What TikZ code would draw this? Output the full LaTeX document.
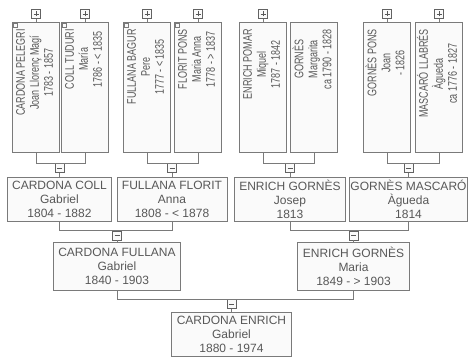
\documentclass[tikz,border=0pt]{standalone}
\usepackage{fontspec}
\setmainfont{Liberation Sans}
\usepackage{graphicx}
\usetikzlibrary{positioning}

\definecolor{frame}{HTML}{7A7A7A}
\definecolor{ink}{HTML}{585858}
\definecolor{paper}{HTML}{FAFAFA}

\newcommand{\upname}[3]{\rotatebox{90}{\makebox[116pt][r]{\scalebox{0.72}[1]{\fontsize{12.5}{14}\selectfont\begin{tabular}{@{}c@{}}#1\\#2\\#3\end{tabular}}}}}

\begin{document}
\begin{tikzpicture}[
  x=1pt, y=-1pt,
  person/.style={draw=frame, fill=paper, text=ink, line width=0.9pt, font=\fontsize{12}{14}\selectfont},
  upbox/.style={person, minimum width=47pt, minimum height=130pt, inner sep=0pt, anchor=north},
  rowbox/.style={person, align=center, inner xsep=5pt, inner ysep=1pt, minimum height=44pt},
  btn/.style={draw=frame!80!black, fill=paper, minimum size=9pt, inner sep=0pt, line width=0.8pt},
  minusbtn/.style={btn, path picture={\draw[ink] ([xshift=-2.5pt]path picture bounding box.center) -- ([xshift=2.5pt]path picture bounding box.center);}},
  plusbtn/.style={btn, path picture={\draw[ink] ([xshift=-2.5pt]path picture bounding box.center) -- ([xshift=2.5pt]path picture bounding box.center) ([yshift=-2.5pt]path picture bounding box.center) -- ([yshift=2.5pt]path picture bounding box.center);}},
  link/.style={draw=frame, line width=0.8pt}
]
\useasboundingbox (0,0) rectangle (471,358);

% great-grandparents
\node[upbox] (p1) at (36,22) {\upname{CARDONA PELEGRI}{Joan Llorenç Magí}{1783 - 1857}};
\node[upbox] (p2) at (85,22) {\upname{COLL TUDURI}{María}{1786 - < 1835}};
\node[upbox] (p3) at (147,22) {\upname{FULLANA BAGUR}{Pere}{1777 - < 1835}};
\node[upbox] (p4) at (198,22) {\upname{FLORIT PONS}{Maria Anna}{1778 - > 1837}};
\node[upbox] (p5) at (263,22) {\upname{ENRICH POMAR}{Miquel}{1787 - 1842}};
\node[upbox] (p6) at (314,22) {\upname{GORNÈS}{Margarita}{ca 1790 - 1828}};
\node[upbox] (p7) at (387,22) {\upname{GORNÈS PONS}{Joan}{- 1826}};
\node[upbox] (p8) at (439,22) {\upname{MASCARÓ LLABRÉS}{Àgueda}{ca 1776 - 1827}};
\foreach \p in {p1,p2,p3,p4}
  \draw[frame, line width=0.5pt] ([shift={(1.5,1.5)}]\p.north west) rectangle ++(4,4);

% expand buttons
\node[plusbtn] (a1) at (36,14) {};
\node[plusbtn] (a2) at (85,14) {};
\node[plusbtn] (a3) at (147,14) {};
\node[plusbtn] (a4) at (198,14) {};
\node[plusbtn] (a5) at (263,14) {};
\node[plusbtn] (a7) at (387,14) {};
\node[plusbtn] (a8) at (439,14) {};
\foreach \n in {1,2,3,4,5,7,8}
  \draw[link] (a\n) -- (p\n);

% grandparents
\node[rowbox] (c1) at (59.5,199) {CARDONA COLL\\Gabriel\\1804 - 1882};
\node[rowbox] (c2) at (172,199) {FULLANA FLORIT\\Anna\\1808 - < 1878};
\node[rowbox] (c3) at (290,199) {ENRICH GORNÈS\\Josep\\1813};
\node[rowbox, inner xsep=1pt] (c4) at (408.5,199) {GORNÈS MASCARÓ\\Àgueda\\1814};

% parents
\node[rowbox, minimum height=48pt] (g1) at (117,266) {CARDONA FULLANA\\Gabriel\\1840 - 1903};
\node[rowbox, minimum height=48pt] (g2) at (353.5,266) {ENRICH GORNÈS\\Maria\\1849 - > 1903};

% root
\node[rowbox] (r1) at (231.5,334) {CARDONA ENRICH\\Gabriel\\1880 - 1974};

% collapse buttons
\node[minusbtn] (m1) at (59.5,168) {};
\node[minusbtn] (m2) at (172,168) {};
\node[minusbtn] (m3) at (290,168) {};
\node[minusbtn] (m4) at (408.5,168) {};
\node[minusbtn] (m5) at (117,235.5) {};
\node[minusbtn] (m6) at (353.5,235.5) {};
\node[minusbtn] (m7) at (231.5,304) {};

% brackets
\draw[link] (p1.south) |- (m1.north) -| (p2.south);
\draw[link] (p3.south) |- (m2.north) -| (p4.south);
\draw[link] (p5.south) |- (m3.north) -| (p6.south);
\draw[link] (p7.south) |- (m4.north) -| (p8.south);
\draw[link] (c1.south) |- (m5.north) -| (c2.south);
\draw[link] (c3.south) |- (m6.north) -| (c4.south);
\draw[link] (g1.south) |- (m7.north) -| (g2.south);
\draw[link] (m1) -- (c1);
\draw[link] (m2) -- (c2);
\draw[link] (m3) -- (c3);
\draw[link] (m4) -- (c4);
\draw[link] (m5) -- (g1);
\draw[link] (m6) -- (g2);
\draw[link] (m7) -- (r1);
\end{tikzpicture}
\end{document}
